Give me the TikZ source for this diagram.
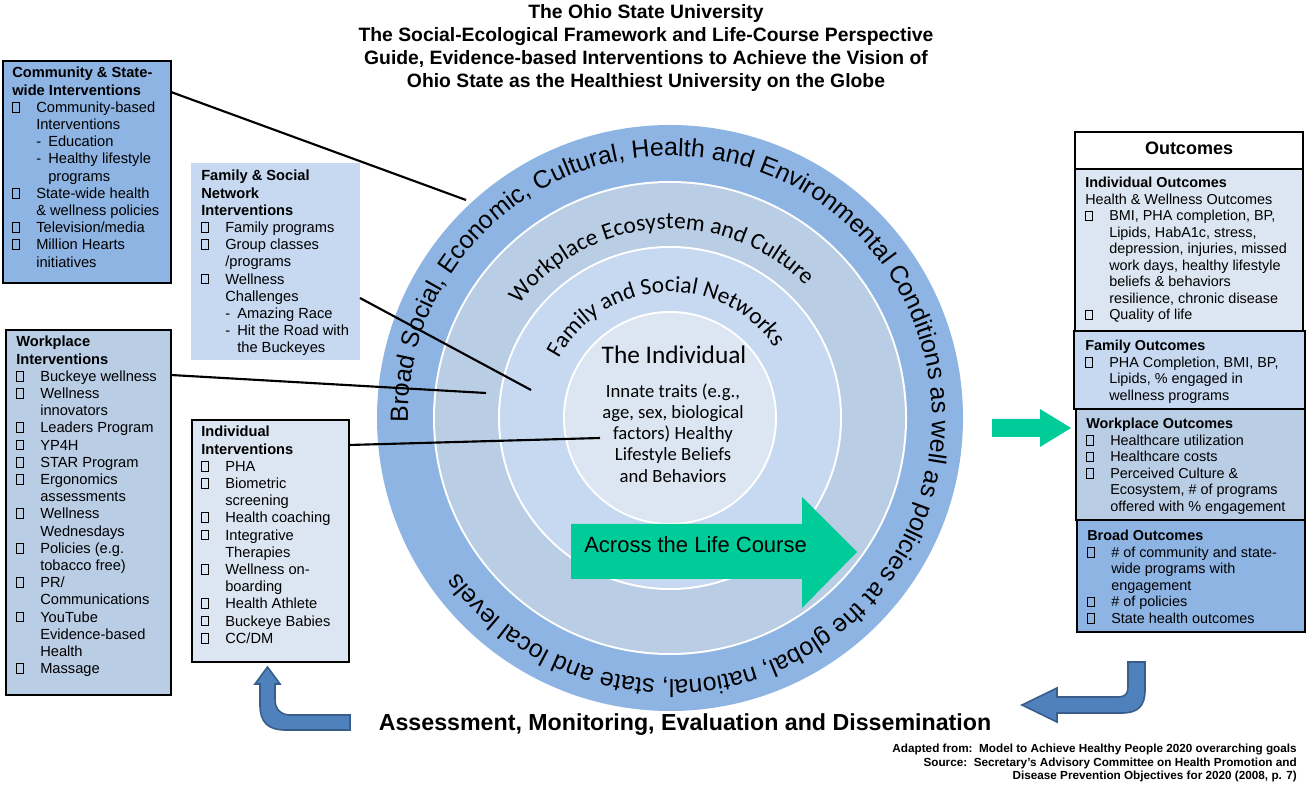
\documentclass[tikz,border=0pt]{standalone}
\usepackage{fontspec}
\setmainfont{Liberation Sans}
\newfontfamily\calf{Carlito}
\usetikzlibrary{decorations.text}
\definecolor{cOuter}{HTML}{8EB4E3}
\definecolor{cWork}{HTML}{B9CDE5}
\definecolor{cFam}{HTML}{C6D9F1}
\definecolor{cInd}{HTML}{DCE6F2}
\definecolor{cGreen}{HTML}{00CC99}
\definecolor{cArr}{HTML}{4F81BD}
\definecolor{cArrB}{HTML}{385D8A}
\newcommand\bxx{\raisebox{0.05em}{\fboxsep=0pt\fboxrule=0.45pt\fbox{\rule{0pt}{0.62em}\rule{0.42em}{0pt}}}}
\newcommand\myBi[1]{\makebox[18pt][l]{\bxx}#1}
\newcommand\myCt[1]{\hspace*{18pt}#1}
\newcommand\mySd[1]{\hspace*{18pt}\makebox[9pt][l]{-}#1}
\newcommand\mySc[1]{\hspace*{27pt}#1}
\begin{document}
\begin{tikzpicture}[x=0.75pt,y=0.75pt,
  box/.style={draw=black,line width=0.8pt},
  txt/.style={anchor=north west,inner sep=0pt,align=left,font=\fontsize{11}{12.9}\selectfont},
  rtxt/.style={anchor=north west,inner sep=0pt,align=left,font=\fontsize{10.8}{12.4}\selectfont},
  conn/.style={line width=1.6pt,black},
  bentarrow/.style={fill=cArr,draw=cArrB,line width=1.2pt}]
\useasboundingbox (0,0) rectangle (1307,-787);
\coordinate (c) at (670,-418);
% circles
\fill[cOuter] (c) circle[radius=293];
\fill[white] (c) circle[radius=237];
\fill[cWork] (c) circle[radius=235];
\fill[white] (c) circle[radius=172];
\fill[cFam] (c) circle[radius=170];
\fill[white] (c) circle[radius=107];
\fill[cInd] (c) circle[radius=105];
% curved texts
\path[decorate,decoration={text along path,text align=left,
  text={|\fontsize{18.7}{18.7}\selectfont|Broad Social, Economic, Cultural, Health and Environmental Conditions as well as policies at the global, national, state and local levels}}]
  (c) ++(181:262) arc[start angle=181,end angle=-176,radius=262];
\path[decorate,decoration={text along path,text align=left,
  text={|\calf\fontsize{17.6}{17.6}\selectfont|Workplace Ecosystem and Culture}}]
  (c) ++(143:189) arc[start angle=143,end angle=10,radius=189];
\path[decorate,decoration={text along path,text align=left,
  text={|\calf\fontsize{17.5}{17.5}\selectfont|Family and Social Networks}}]
  (c) ++(152:126) arc[start angle=152,end angle=10,radius=126];
\node[font=\calf\fontsize{19}{19}\selectfont,inner sep=0pt] (indiv) at (674,-355) {The Individual};
\node[font=\calf\fontsize{14}{15.9}\selectfont,align=center,inner sep=0pt] (innate) at (673,-433)
  {Innate traits (e.g.,\\age, sex, biological\\factors) Healthy\\Lifestyle Beliefs\\and Behaviors};
% across arrow
\fill[cGreen] (571,-524) -- (802,-524) -- (802,-497) -- (857,-552) -- (802,-608) -- (802,-579) -- (571,-579) -- cycle;
\node[font=\fontsize{16.5}{16.5}\selectfont,anchor=west,inner sep=0pt] (across) at (584,-545) {Across the Life Course};
% title
\node[font=\bfseries\fontsize{14.5}{17.3}\selectfont,align=center,anchor=north,inner sep=0pt] (title) at (646,-4)
  {The Ohio State University\\The Social-Ecological Framework and Life-Course Perspective\\Guide, Evidence-based Interventions to Achieve the Vision of\\Ohio State as the Healthiest University on the Globe};
% left boxes
\draw[box,fill=cOuter] (3,-61) rectangle (171,-283);
\node[txt] (comm) at (12,-67) {\textbf{Community \& State-}\\\textbf{wide Interventions}\\
 \myBi{Community-based}\\\myCt{Interventions}\\\mySd{Education}\\\mySd{Healthy lifestyle}\\\mySc{programs}\\
 \myBi{State-wide health}\\\myCt{\& wellness policies}\\\myBi{Television/media}\\\myBi{Million Hearts}\\\myCt{initiatives}};
\fill[cFam] (191,-163) rectangle (360,-360);
\node[txt] (fam) at (201,-170) {\textbf{Family \& Social}\\\textbf{Network}\\\textbf{Interventions}\\
 \myBi{Family programs}\\\myBi{Group classes}\\\myCt{/programs}\\\myBi{Wellness}\\\myCt{Challenges}\\
 \mySd{Amazing Race}\\\mySd{Hit the Road with}\\\mySc{the Buckeyes}};
\draw[box,fill=cWork] (6,-330) rectangle (171,-695);
\node[txt] (work) at (16,-336) {\textbf{Workplace}\\\textbf{Interventions}\\
 \myBi{Buckeye wellness}\\\myBi{Wellness}\\\myCt{innovators}\\\myBi{Leaders Program}\\\myBi{YP4H}\\\myBi{STAR Program}\\
 \myBi{Ergonomics}\\\myCt{assessments}\\\myBi{Wellness}\\\myCt{Wednesdays}\\\myBi{Policies (e.g.}\\\myCt{tobacco free)}\\
 \myBi{PR/}\\\myCt{Communications}\\\myBi{YouTube}\\\myCt{Evidence-based}\\\myCt{Health}\\\myBi{Massage}};
\draw[box,fill=cInd] (192,-420) rectangle (349,-662);
\node[txt] (ind) at (201,-426) {\textbf{Individual}\\\textbf{Interventions}\\
 \myBi{PHA}\\\myBi{Biometric}\\\myCt{screening}\\\myBi{Health coaching}\\\myBi{Integrative}\\\myCt{Therapies}\\
 \myBi{Wellness on-}\\\myCt{boarding}\\\myBi{Health Athlete}\\\myBi{Buckeye Babies}\\\myBi{CC/DM}};
% right boxes
\draw[box,fill=white] (1075,-132) rectangle (1303,-169);
\node[font=\bfseries\fontsize{13.5}{13.5}\selectfont] (outc) at (1189,-148) {Outcomes};
\draw[box,fill=cInd] (1075,-169) rectangle (1303,-331);
\node[rtxt] (io) at (1085,-177) {\textbf{Individual Outcomes}\\Health \& Wellness Outcomes\\
 \myBi{BMI, PHA completion, BP,}\\\myCt{Lipids, HabA1c, stress,}\\\myCt{depression, injuries, missed}\\\myCt{work days, healthy lifestyle}\\\myCt{beliefs \& behaviors}\\\myCt{resilience, chronic disease}\\\myBi{Quality of life}};
\draw[box,fill=cFam] (1074,-331) rectangle (1305,-409);
\node[rtxt] (fo) at (1085,-340) {\textbf{Family Outcomes}\\\myBi{PHA Completion, BMI, BP,}\\\myCt{Lipids, \% engaged in}\\\myCt{wellness programs}};
\draw[box,fill=cWork] (1076,-409) rectangle (1305,-520);
\node[rtxt] (wo) at (1086,-418) {\textbf{Workplace Outcomes}\\\myBi{Healthcare utilization}\\\myBi{Healthcare costs}\\\myBi{Perceived Culture \&}\\\myCt{Ecosystem, \# of programs}\\\myCt{offered with \% engagement}};
\draw[box,fill=cOuter] (1077,-520) rectangle (1305,-632);
\node[rtxt] (bo) at (1087,-530) {\textbf{Broad Outcomes}\\\myBi{\# of community and state-}\\\myCt{wide programs with}\\\myCt{engagement}\\\myBi{\# of policies}\\\myBi{State health outcomes}};
% green arrow to outcomes
\fill[cGreen] (992,-419) -- (1040,-419) -- (1040,-409) -- (1071,-428) -- (1040,-447) -- (1040,-437) -- (992,-437) -- cycle;
% connectors
\coordinate (e1) at (466,-200);
\coordinate (e2) at (531,-390);
\coordinate (e3) at (486,-393);
\coordinate (e4) at (600,-438);
\draw[conn] (171,-92) -- (e1);
\draw[conn] (360,-298) -- (e2);
\draw[conn] (171,-375) -- (e3);
\draw[conn] (349,-445) -- (e4);
% bent arrows
\draw[bentarrow] (350,-715) -- (290,-715) .. controls (281,-715) and (275,-709) .. (275,-700) -- (275,-684) -- (280,-684) -- (267.5,-667) -- (255,-684) -- (260,-684) -- (260,-705) .. controls (260,-722) and (268,-730) .. (285,-730) -- (350,-730) -- cycle;
\draw[bentarrow] (1128,-662) -- (1145,-662) -- (1145,-690) .. controls (1145,-706) and (1138,-713) .. (1122,-713) -- (1057,-713) -- (1057,-722) -- (1022,-705) -- (1057,-688) -- (1057,-697) -- (1118,-697) .. controls (1125,-697) and (1128,-694) .. (1128,-687) -- cycle;
% bottom texts
\node[font=\bfseries\fontsize{17.4}{17.4}\selectfont,inner sep=0pt] (assess) at (685,-725) {Assessment, Monitoring, Evaluation and Dissemination};
\node[font=\bfseries\fontsize{8.8}{10}\selectfont,align=right,anchor=north east,inner sep=0pt] (src) at (1297,-744)
  {Adapted from:\ \ Model to Achieve Healthy People 2020 overarching goals\\Source:\ \ Secretary's Advisory Committee on Health Promotion and\\Disease Prevention Objectives for 2020 (2008, p. 7)};
\end{tikzpicture}
\end{document}
